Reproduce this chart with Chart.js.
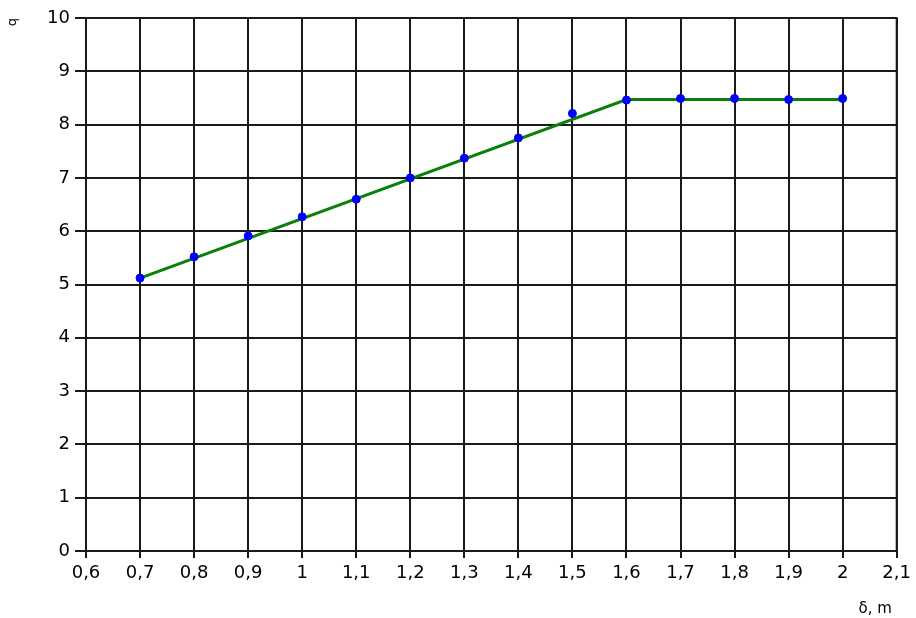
<!DOCTYPE html>
<html>
<head>
<meta charset="utf-8">
<script src="https://cdn.jsdelivr.net/npm/chart.js@4/dist/chart.umd.min.js"></script>
<style>
  html, body { margin: 0; padding: 0; background: #fff; }
  #wrap { width: 916px; height: 618px; }
</style>
</head>
<body>
<div id="wrap"><canvas id="myChart" width="916" height="618"></canvas></div>
<script>
// measured points (delta, q)
var deltaPts = [0.7, 0.8, 0.9, 1.0, 1.1, 1.2, 1.3, 1.4, 1.5, 1.6, 1.7, 1.8, 1.9, 2.0];
var qPts = [5.12, 5.52, 5.91, 6.27, 6.60, 7.00, 7.37, 7.75, 8.21, 8.46, 8.49, 8.49, 8.47, 8.49];

// approximating line
var deltaLine = [0.7, 1.6, 2.0];
var qLine = [5.12, 8.47, 8.47];

var xTicks = [0.6, 0.7, 0.8, 0.9, 1.0, 1.1, 1.2, 1.3, 1.4, 1.5, 1.6, 1.7, 1.8, 1.9, 2.0, 2.1];
var yTicks = [0, 1, 2, 3, 4, 5, 6, 7, 8, 9, 10];

function toXY(xs, ys) {
  return xs.map(function (x, i) { return { x: x, y: ys[i] }; });
}

function fmt(v) {
  return String(Number(v.toFixed(1))).replace('.', ',');
}

var gridColor = '#1a1a1a';
var font = { family: 'DejaVu Sans', size: 18 };

var chart = new Chart(document.getElementById('myChart'), {
  type: 'scatter',
  data: {
    datasets: [
      {
        label: 'line',
        data: toXY(deltaLine, qLine),
        showLine: true,
        borderColor: '#0a800a',
        borderWidth: 3,
        pointRadius: 0,
        fill: false,
        order: 2
      },
      {
        label: 'points',
        data: toXY(deltaPts, qPts),
        showLine: false,
        backgroundColor: '#0000ff',
        borderColor: '#0000ff',
        pointRadius: 4,
        order: 1
      }
    ]
  },
  options: {
    responsive: false,
    animation: false,
    layout: { padding: { top: 18, right: 18, left: 0, bottom: 0 } },
    plugins: { legend: { display: false }, tooltip: { enabled: false } },
    scales: {
      x: {
        type: 'linear',
        min: 0.6,
        max: 2.1,
        afterBuildTicks: function (axis) {
          axis.ticks = xTicks.map(function (v) { return { value: v }; });
        },
        afterFit: function (axis) { axis.height = 67; },
        ticks: {
          color: '#000',
          font: font,
          padding: 5,
          maxRotation: 0,
          autoSkip: false,
          callback: function (v) { return fmt(v); }
        },
        grid: { color: gridColor, lineWidth: 2, tickLength: 7 },
        border: { color: gridColor, width: 2 },
        title: {
          display: true,
          text: 'δ, m\u00a0',
          align: 'end',
          color: '#000',
          font: { family: 'DejaVu Sans', size: 15 },
          padding: { top: 2, bottom: 0 }
        }
      },
      y: {
        type: 'linear',
        min: 0,
        max: 10,
        afterBuildTicks: function (axis) {
          axis.ticks = yTicks.map(function (v) { return { value: v }; });
        },
        afterFit: function (axis) { axis.width = 86; },
        ticks: {
          color: '#000',
          font: font,
          padding: 5,
          callback: function (v) { return String(v); }
        },
        grid: { color: gridColor, lineWidth: 2, tickLength: 11 },
        border: { color: gridColor, width: 2 },
        title: {
          display: true,
          text: 'q',
          align: 'end',
          color: '#000',
          font: { family: 'DejaVu Sans', size: 13 },
          padding: { top: 5, bottom: 0 }
        }
      }
    }
  },
  plugins: [{
    id: 'frame',
    afterDraw: function (c) {
      var a = c.chartArea, ctx = c.ctx;
      ctx.save();
      ctx.strokeStyle = gridColor;
      ctx.lineWidth = 2;
      ctx.strokeRect(a.left, a.top, a.right - a.left, a.bottom - a.top);
      ctx.restore();
    }
  }]
});
</script>
</body>
</html>
